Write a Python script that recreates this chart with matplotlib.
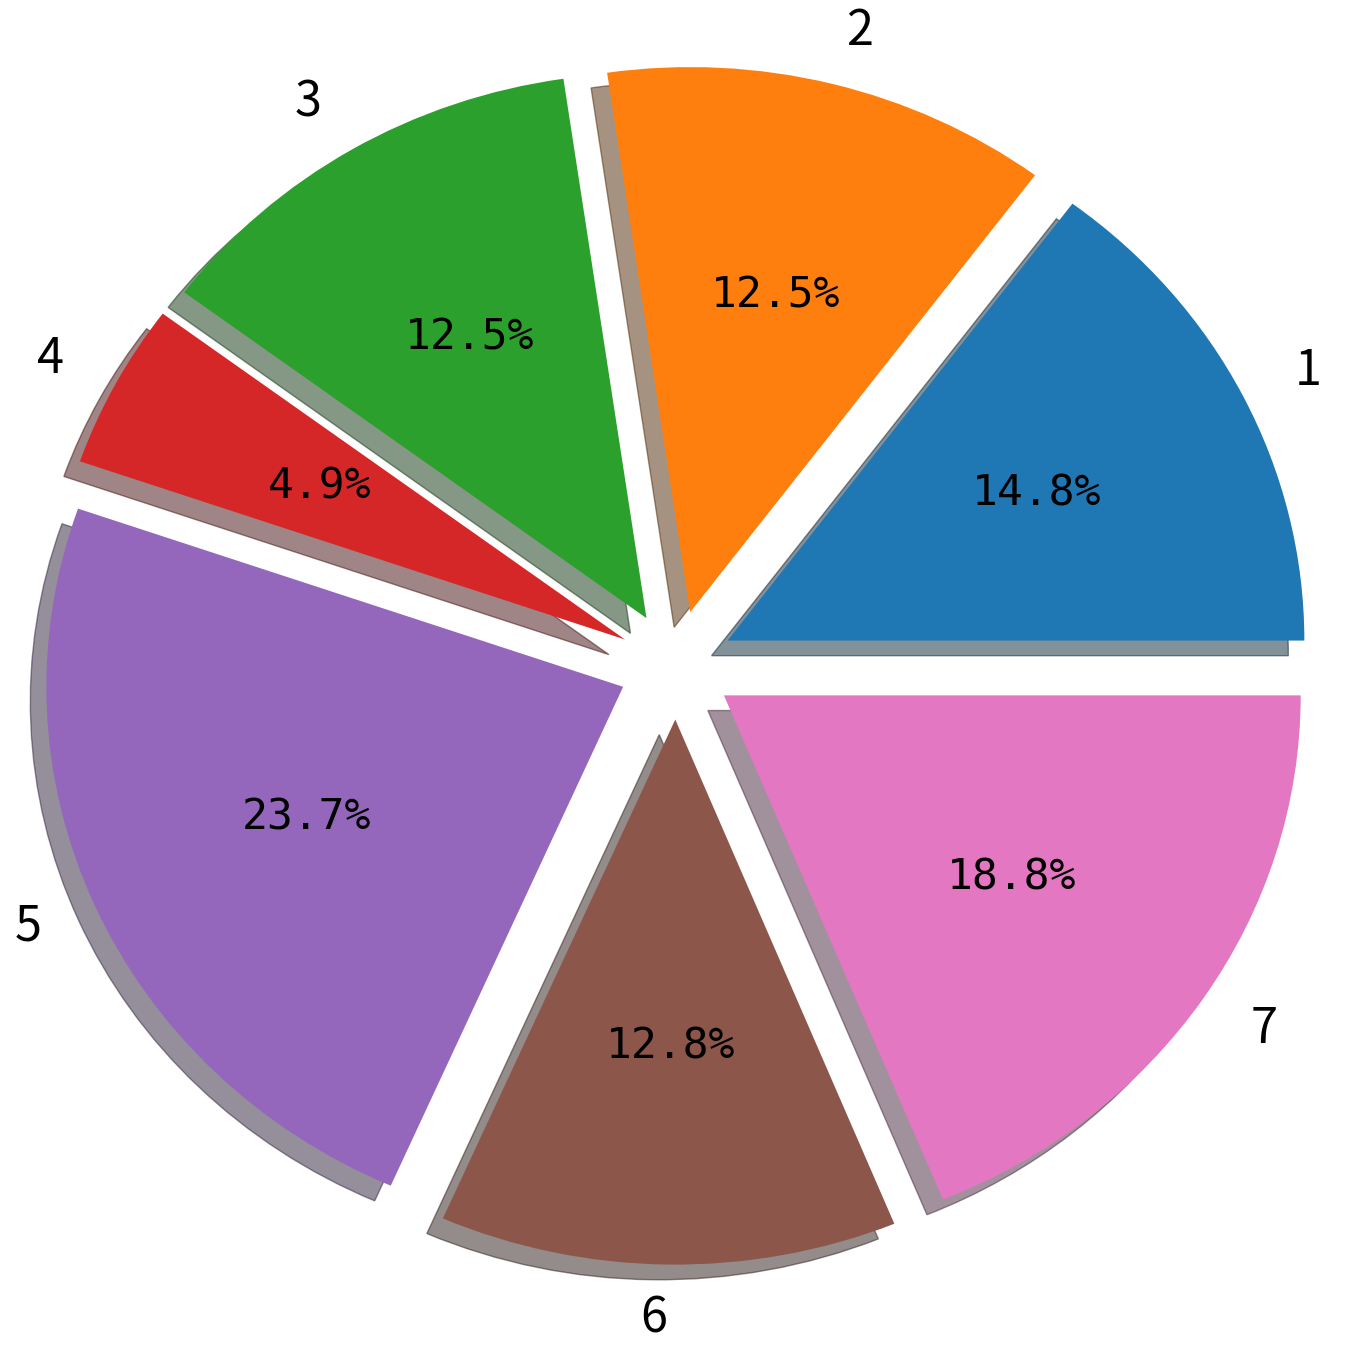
import matplotlib
matplotlib.use("Agg")
import matplotlib.pyplot as plt

labels = ["1", "2", "3", "4", "5", "6", "7"]
values = [14.8, 12.5, 12.5, 4.9, 23.7, 12.8, 18.8]
explode = [0.1] * 7

fig = plt.figure(figsize=(13.67, 13.6), dpi=100)
ax = fig.add_axes([0, 0, 1, 1])
wedges, texts, autotexts = ax.pie(
    values, labels=labels, explode=explode, autopct="%1.1f%%",
    shadow=True, startangle=0,
    textprops=dict(fontsize=31, family=["DejaVu Sans Mono", "Noto Sans CJK SC"]),
)
for t in texts:
    t.set_family(["Noto Sans CJK SC", "DejaVu Sans"])
    t.set_fontsize(35)
ax.set_aspect("auto")
ax.set_xlim(-1.172, 1.198)
ax.set_ylim(-1.275, 1.220)
ax.axis("off")
fig.savefig("out.png", dpi=100, facecolor="white")
